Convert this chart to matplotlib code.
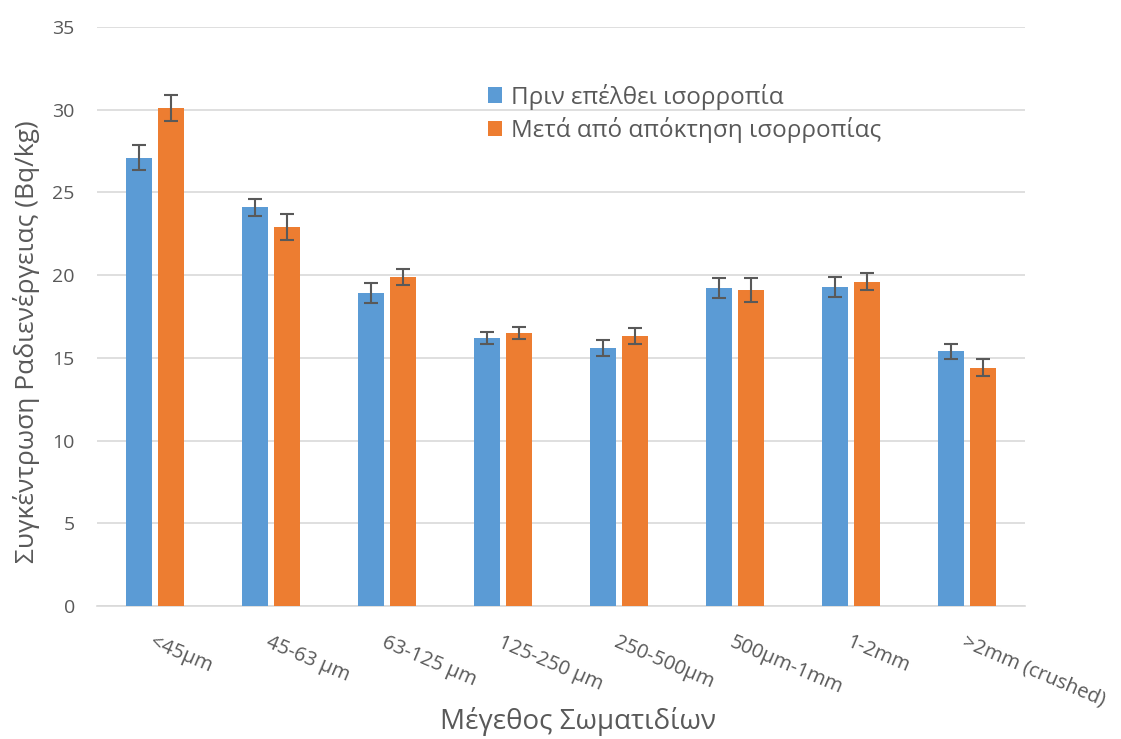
import matplotlib
matplotlib.use("Agg")
import matplotlib.pyplot as plt
import numpy as np

plt.rcParams['font.family'] = ['Open Sans', 'Noto Sans', 'DejaVu Sans']

categories = ["<45μm", "45-63 μm", "63-125 μm", "125-250 μm", "250-500μm",
              "500μm-1mm", "1-2mm", ">2mm (crushed)"]
before = [27.1, 24.1, 18.9, 16.2, 15.6, 19.2, 19.3, 15.4]
before_err = [0.75, 0.5, 0.6, 0.38, 0.5, 0.6, 0.6, 0.45]
after = [30.1, 22.9, 19.9, 16.5, 16.3, 19.1, 19.6, 14.4]
after_err = [0.8, 0.77, 0.5, 0.35, 0.48, 0.7, 0.5, 0.52]
series_names = ["Πριν επέλθει ισορροπία", "Μετά από απόκτηση ισορροπίας"]
yticks = [0, 5, 10, 15, 20, 25, 30, 35]

blue = "#5B9BD5"
orange = "#ED7D31"
txt = "#595959"
grid = "#D9D9D9"

fig = plt.figure(figsize=(11.21, 7.39), dpi=100)
ax = fig.add_axes([97/1121, 1-606/739, 928/1121, 579/739])

x = np.arange(len(categories))
w = 0.224
off = 0.142
err_kw = dict(ecolor="#595959", elinewidth=1.5, capsize=5, capthick=1.5)
ax.bar(x - off, before, w, yerr=before_err, color=blue, label=series_names[0],
       error_kw=err_kw, zorder=3)
ax.bar(x + off, after, w, yerr=after_err, color=orange, label=series_names[1],
       error_kw=err_kw, zorder=3)

ax.set_xlim(-0.5, len(categories) - 0.5)
ax.set_ylim(0, 35)
ax.set_yticks(yticks)
ax.yaxis.grid(True, color=grid, linewidth=1.2, zorder=0)
ax.set_axisbelow(True)
for s in ["top", "right", "left"]:
    ax.spines[s].set_visible(False)
ax.spines["bottom"].set_color(grid)
ax.spines["bottom"].set_linewidth(1.2)
ax.tick_params(axis="both", length=0, colors=txt, labelsize=14)
ax.tick_params(axis="y", pad=16)

ax.set_xticks(x)
ax.set_xticklabels([])
for xi, lab in zip(x, categories):
    ax.annotate(lab, xy=(xi, 0), xycoords=("data", "axes fraction"),
                xytext=(0, -19), textcoords="offset points",
                rotation=-23, rotation_mode="anchor", ha="left", va="top",
                fontsize=14.5, color=txt)

fig.text(27/1121, 1-342/739, "Συγκέντρωση Ραδιενέργειας (Bq/kg)", rotation=90,
         ha="center", va="center", fontsize=19, color=txt)
fig.text(578/1121, 1-722/739, "Μέγεθος Σωματιδίων", ha="center", va="center",
         fontsize=20, color=txt)

leg = ax.legend(loc="upper left", bbox_to_anchor=(478/1121, 1-74/739),
                bbox_transform=fig.transFigure, frameon=False, fontsize=17.5,
                handlelength=0.6, handleheight=0.6, handletextpad=0.35,
                labelspacing=0.3, borderaxespad=0)
for t in leg.get_texts():
    t.set_color(txt)

fig.savefig("out.png", dpi=100, facecolor="white")
